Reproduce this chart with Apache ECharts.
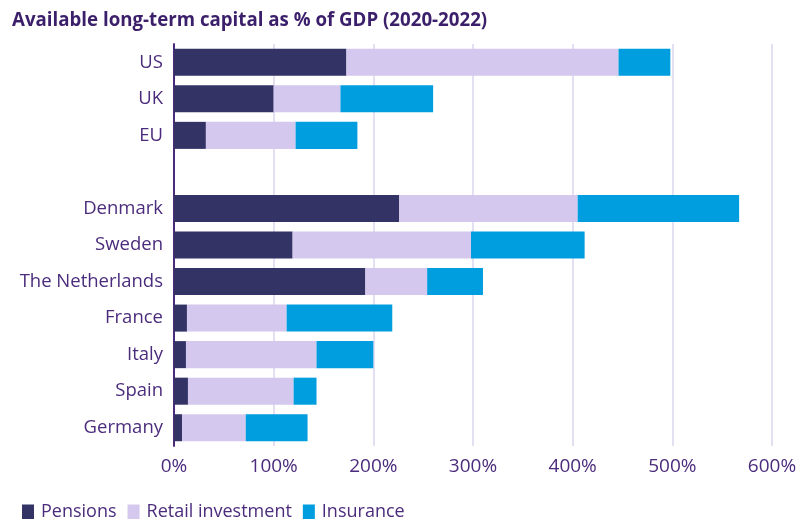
<!DOCTYPE html>
<html>
<head>
<meta charset="utf-8">
<script src="https://cdn.jsdelivr.net/npm/echarts@6/dist/echarts.min.js"></script>
<style>
  html, body { margin: 0; padding: 0; background: #ffffff; }
  #chart { width: 812px; height: 519px; }
</style>
</head>
<body>
<div id="chart"></div>
<script>
// Countries listed top to bottom; the empty entry separates the regional aggregates.
const categories = ['US', 'UK', 'EU', '', 'Denmark', 'Sweden', 'The Netherlands', 'France', 'Italy', 'Spain', 'Germany'];
// Shares of GDP (%) per source of long-term capital
const pensions   = [173, 100, 32, null, 226, 119, 192, 13, 12, 14, 8];
const retail     = [273, 67, 90, null, 179, 179, 62, 100, 131, 106, 64];
const insurance  = [52, 93, 62, null, 162, 114, 56, 106, 57, 23, 62];
const seriesNames = ['Pensions', 'Retail investment', 'Insurance'];
const tickValues = [0, 100, 200, 300, 400, 500, 600];

const colors = ['#333366', '#d4c8ee', '#009ddf'];
const textColor = '#4b2c7c';
const fontFamily = '"Open Sans", "Noto Sans", sans-serif';

const chart = echarts.init(document.getElementById('chart'), null, { renderer: 'canvas' });

const makeSeries = (name, data, color) => ({
  name: name,
  type: 'bar',
  stack: 'total',
  data: data,
  barCategoryGap: '26%',
  itemStyle: { color: color },
  emphasis: { disabled: true }
});

chart.setOption({
  animation: false,
  color: colors,
  title: {
    text: 'Available long-term capital as % of GDP (2020-2022)',
    left: 7,
    top: 6,
    textStyle: { color: '#3b1f6b', fontFamily: fontFamily, fontWeight: 'bold', fontSize: 18.7 }
  },
  legend: {
    left: 17,
    top: 498,
    icon: 'rect',
    itemWidth: 12,
    itemHeight: 15,
    itemGap: 11,
    data: seriesNames,
    textStyle: { color: textColor, fontFamily: fontFamily, fontSize: 18, padding: [0, 0, 0, 2] }
  },
  grid: { left: 174, right: 40, top: 44, bottom: 73, containLabel: false },
  xAxis: {
    type: 'value',
    min: tickValues[0],
    max: tickValues[tickValues.length - 1],
    interval: 100,
    axisLine: { show: false },
    axisTick: { show: false },
    splitLine: { show: true, lineStyle: { color: '#dcd4f0', width: 1.5 } },
    axisLabel: {
      color: textColor,
      fontFamily: fontFamily,
      fontSize: 19,
      margin: 11,
      formatter: v => v + '%'
    }
  },
  yAxis: {
    type: 'category',
    inverse: true,
    data: categories,
    axisLine: { show: true, lineStyle: { color: '#4b2c7c', width: 2 } },
    axisTick: { show: false },
    axisLabel: { color: textColor, fontFamily: fontFamily, fontSize: 18.5, margin: 11 }
  },
  series: [
    makeSeries(seriesNames[0], pensions, colors[0]),
    makeSeries(seriesNames[1], retail, colors[1]),
    makeSeries(seriesNames[2], insurance, colors[2])
  ]
});
</script>
</body>
</html>
